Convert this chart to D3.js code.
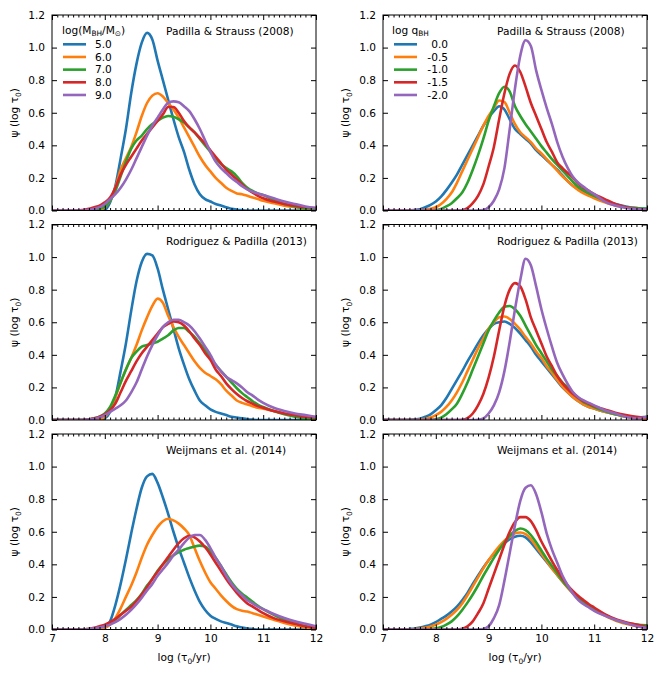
<!DOCTYPE html>
<html><head><meta charset="utf-8">
<script src="https://cdn.jsdelivr.net/npm/d3@7"></script>
<style>body{margin:0;background:#fff} text{font-family:"DejaVu Sans",sans-serif;fill:#000}</style>
</head><body><svg id="c" width="664" height="675"></svg>
<script>
// ---------- data ----------
const xGrid = [7.0,7.1,7.2,7.3,7.4,7.5,7.6,7.7,7.8,7.9, 8.0,8.1,8.2,8.3,8.4,8.5,8.6,8.7,8.8,8.9,
  9.0,9.1,9.2,9.3,9.4,9.5,9.6,9.7,9.8,9.9, 10.0,10.1,10.2,10.3,10.4,10.5,10.6,10.7,10.8,10.9,
  11.0,11.2,11.4,11.6,11.8,12.0];
const xMajorTicks = [7,8,9,10,11,12];
const yMajorTicks = [0.0,0.2,0.4,0.6,0.8,1.0,1.2];
const massLabels = ["5.0","6.0","7.0","8.0","9.0"];
const qLabels = ["0.0","-0.5","-1.0","-1.5","-2.0"];
const seriesColors = ["#1f77b4","#ff7f0e","#2ca02c","#d62728","#9467bd"];
const sourceTitles = ["Padilla & Strauss (2008)","Rodriguez & Padilla (2013)","Weijmans et al. (2014)"];

// Padilla & Strauss (2008), varying black-hole mass
const ps08M50 = [0,0,0,0,0,0,0,0,0,0, 0.005,0.05,0.15,0.32,0.50,0.72,0.90,1.03,1.09,1.05, 0.92,0.80,0.68,0.56,0.45,0.36,0.25,0.16,0.10,0.07, 0.055,0.04,0.03,0.02,0.01,0.005,0.002,0,0,0, 0,0,0,0,0,0];
const ps08M60 = [0,0,0,0,0,0,0,0,0,0.005, 0.02,0.06,0.14,0.25,0.32,0.39,0.48,0.58,0.66,0.705, 0.72,0.70,0.66,0.62,0.57,0.51,0.45,0.39,0.33,0.28, 0.24,0.20,0.17,0.14,0.12,0.105,0.10,0.09,0.08,0.07, 0.06,0.045,0.03,0.02,0.01,0.005];
const ps08M70 = [0,0,0,0,0,0,0,0,0.005,0.01, 0.025,0.06,0.12,0.21,0.30,0.38,0.43,0.46,0.50,0.53, 0.55,0.57,0.58,0.575,0.56,0.54,0.51,0.48,0.44,0.40, 0.36,0.32,0.285,0.26,0.24,0.21,0.17,0.14,0.12,0.105, 0.095,0.065,0.04,0.025,0.01,0.005];
const ps08M80 = [0,0,0,0,0,0,0.005,0.01,0.02,0.03, 0.05,0.08,0.14,0.22,0.28,0.33,0.38,0.43,0.47,0.51, 0.55,0.59,0.635,0.635,0.60,0.55,0.51,0.48,0.445,0.41, 0.37,0.33,0.29,0.25,0.22,0.19,0.16,0.13,0.11,0.09, 0.075,0.055,0.04,0.03,0.02,0.015];
const ps08M90 = [0,0,0,0,0,0,0,0.005,0.01,0.02, 0.04,0.07,0.10,0.14,0.19,0.25,0.32,0.39,0.46,0.52, 0.57,0.62,0.66,0.67,0.665,0.64,0.61,0.56,0.50,0.43, 0.36,0.30,0.26,0.23,0.20,0.175,0.15,0.13,0.115,0.105, 0.095,0.075,0.055,0.04,0.025,0.015];

// Padilla & Strauss (2008), varying mass ratio
const ps08Q00 = [0,0,0,0,0,0,0.003,0.008,0.02,0.035, 0.055,0.085,0.125,0.17,0.22,0.28,0.34,0.40,0.46,0.52, 0.57,0.61,0.64,0.62,0.56,0.50,0.47,0.44,0.41,0.37, 0.34,0.31,0.28,0.25,0.215,0.18,0.15,0.13,0.115,0.10, 0.085,0.06,0.04,0.025,0.015,0.01];
const ps08Q05 = [0,0,0,0,0,0,0,0.002,0.005,0.01, 0.02,0.04,0.07,0.11,0.17,0.24,0.31,0.38,0.45,0.52, 0.58,0.63,0.675,0.665,0.60,0.53,0.48,0.45,0.42,0.38, 0.35,0.315,0.28,0.245,0.21,0.18,0.15,0.125,0.105,0.09, 0.075,0.05,0.03,0.02,0.01,0.005];
const ps08Q10 = [0,0,0,0,0,0,0,0,0,0, 0.003,0.01,0.025,0.045,0.075,0.11,0.17,0.25,0.34,0.44, 0.55,0.64,0.72,0.76,0.73,0.64,0.58,0.53,0.485,0.44, 0.395,0.355,0.315,0.28,0.245,0.21,0.175,0.145,0.125,0.105, 0.09,0.06,0.035,0.02,0.015,0.01];
const ps08Q15 = [0,0,0,0,0,0,0,0,0,0, 0,0,0,0,0,0.002,0.015,0.045,0.09,0.16, 0.27,0.39,0.56,0.72,0.84,0.89,0.85,0.76,0.66,0.58, 0.50,0.42,0.36,0.295,0.26,0.23,0.20,0.165,0.14,0.12, 0.10,0.07,0.04,0.02,0.01,0.005];
const ps08Q20 = [0,0,0,0,0,0,0,0,0,0, 0,0,0,0,0,0,0,0,0,0.003, 0.02,0.06,0.13,0.26,0.50,0.75,0.95,1.045,1.01,0.86, 0.74,0.63,0.53,0.42,0.33,0.26,0.205,0.17,0.145,0.12, 0.10,0.055,0.03,0.015,0.008,0.004];

// Rodriguez & Padilla (2013), varying mass
const rp13M50 = [0,0,0,0,0,0,0,0,0,0, 0.01,0.05,0.14,0.30,0.47,0.67,0.85,0.97,1.02,1.01, 0.93,0.80,0.68,0.56,0.44,0.34,0.25,0.18,0.12,0.09, 0.065,0.05,0.04,0.03,0.02,0.015,0.01,0.005,0.002,0, 0,0,0,0,0,0];
const rp13M60 = [0,0,0,0,0,0,0,0,0,0.005, 0.02,0.06,0.14,0.23,0.31,0.38,0.46,0.55,0.63,0.70, 0.745,0.72,0.64,0.57,0.51,0.46,0.41,0.36,0.32,0.29, 0.27,0.25,0.22,0.18,0.15,0.12,0.105,0.095,0.085,0.075, 0.07,0.055,0.04,0.025,0.015,0.01];
const rp13M70 = [0,0,0,0,0,0,0,0.005,0.01,0.02, 0.04,0.08,0.15,0.23,0.31,0.38,0.42,0.45,0.46,0.47, 0.48,0.50,0.52,0.55,0.565,0.565,0.54,0.51,0.47,0.43, 0.38,0.34,0.30,0.265,0.23,0.195,0.165,0.14,0.115,0.095, 0.08,0.055,0.035,0.02,0.01,0.005];
const rp13M80 = [0,0,0,0,0,0,0,0.005,0.01,0.02, 0.035,0.06,0.10,0.17,0.24,0.30,0.36,0.41,0.45,0.49, 0.53,0.57,0.59,0.605,0.60,0.58,0.545,0.50,0.46,0.41, 0.37,0.31,0.27,0.225,0.19,0.16,0.135,0.115,0.10,0.085, 0.075,0.055,0.04,0.03,0.02,0.015];
const rp13M90 = [0,0,0,0,0,0,0,0.003,0.008,0.015, 0.03,0.05,0.07,0.09,0.12,0.17,0.23,0.31,0.39,0.46, 0.52,0.57,0.60,0.615,0.615,0.60,0.58,0.545,0.50,0.45, 0.40,0.34,0.30,0.265,0.245,0.225,0.20,0.17,0.15,0.125, 0.105,0.075,0.055,0.04,0.03,0.02];

// Rodriguez & Padilla (2013), varying mass ratio
const rp13Q00 = [0,0,0,0,0,0,0.003,0.008,0.02,0.035, 0.06,0.09,0.135,0.19,0.245,0.30,0.36,0.415,0.47,0.52, 0.56,0.59,0.60,0.605,0.59,0.565,0.53,0.49,0.45,0.40, 0.36,0.32,0.28,0.24,0.20,0.17,0.14,0.115,0.095,0.08, 0.07,0.05,0.035,0.025,0.015,0.015];
const rp13Q05 = [0,0,0,0,0,0,0,0.003,0.007,0.015, 0.03,0.05,0.08,0.12,0.17,0.23,0.30,0.37,0.44,0.50, 0.56,0.60,0.63,0.635,0.62,0.59,0.555,0.51,0.47,0.42, 0.38,0.33,0.29,0.245,0.205,0.17,0.14,0.115,0.095,0.08, 0.07,0.05,0.035,0.02,0.01,0.01];
const rp13Q10 = [0,0,0,0,0,0,0,0,0,0, 0.005,0.015,0.035,0.065,0.10,0.16,0.23,0.31,0.39,0.47, 0.55,0.61,0.66,0.695,0.70,0.68,0.64,0.58,0.52,0.46, 0.41,0.36,0.31,0.27,0.23,0.20,0.165,0.135,0.11,0.095, 0.08,0.055,0.035,0.02,0.015,0.02];
const rp13Q15 = [0,0,0,0,0,0,0,0,0,0, 0,0,0,0,0,0.002,0.012,0.04,0.09,0.16, 0.26,0.39,0.55,0.70,0.80,0.84,0.82,0.74,0.63,0.55, 0.47,0.39,0.33,0.27,0.225,0.19,0.16,0.135,0.115,0.10, 0.085,0.065,0.045,0.03,0.02,0.015];
const rp13Q20 = [0,0,0,0,0,0,0,0,0,0, 0,0,0,0,0,0,0,0,0.002,0.01, 0.04,0.09,0.17,0.30,0.48,0.68,0.86,0.99,0.95,0.82, 0.68,0.56,0.45,0.35,0.28,0.22,0.17,0.14,0.12,0.105, 0.09,0.06,0.04,0.02,0.01,0.02];

// Weijmans et al. (2014), varying mass
const w14M50 = [0,0,0,0,0,0,0,0,0,0.002, 0.01,0.05,0.15,0.28,0.43,0.59,0.74,0.87,0.94,0.955, 0.90,0.81,0.71,0.60,0.50,0.41,0.32,0.24,0.17,0.12, 0.085,0.065,0.05,0.04,0.03,0.02,0.012,0.006,0.003,0, 0,0,0,0,0,0];
const w14M60 = [0,0,0,0,0,0,0,0,0,0.003, 0.01,0.03,0.07,0.13,0.20,0.27,0.35,0.44,0.52,0.58, 0.63,0.665,0.68,0.67,0.65,0.62,0.58,0.50,0.42,0.35, 0.29,0.25,0.21,0.175,0.145,0.125,0.115,0.11,0.10,0.09, 0.08,0.06,0.04,0.025,0.012,0.005];
const w14M70 = [0,0,0,0,0,0,0,0.003,0.008,0.015, 0.025,0.04,0.06,0.09,0.12,0.15,0.18,0.22,0.27,0.31, 0.36,0.40,0.43,0.455,0.475,0.49,0.50,0.51,0.515,0.51, 0.48,0.44,0.39,0.34,0.29,0.25,0.22,0.195,0.17,0.145, 0.125,0.09,0.06,0.04,0.02,0.01];
const w14M80 = [0,0,0,0,0,0,0,0.005,0.01,0.02, 0.03,0.045,0.065,0.09,0.115,0.14,0.175,0.215,0.26,0.31, 0.355,0.40,0.445,0.49,0.53,0.56,0.575,0.565,0.54,0.505, 0.46,0.41,0.36,0.31,0.265,0.225,0.19,0.16,0.14,0.12, 0.10,0.07,0.05,0.035,0.02,0.01];
const w14M90 = [0,0,0,0,0,0,0,0.003,0.007,0.012, 0.02,0.03,0.045,0.065,0.09,0.12,0.155,0.195,0.24,0.28, 0.33,0.37,0.41,0.455,0.49,0.53,0.565,0.58,0.58,0.55, 0.50,0.44,0.39,0.33,0.28,0.24,0.21,0.18,0.16,0.14, 0.125,0.095,0.07,0.05,0.035,0.02];

// Weijmans et al. (2014), varying mass ratio
const w14Q00 = [0,0,0,0,0,0.003,0.006,0.012,0.02,0.03, 0.045,0.065,0.085,0.11,0.14,0.18,0.225,0.28,0.33,0.38, 0.425,0.465,0.50,0.53,0.555,0.57,0.575,0.565,0.535,0.495, 0.455,0.415,0.375,0.335,0.295,0.26,0.225,0.195,0.17,0.145, 0.125,0.09,0.06,0.04,0.025,0.015];
const w14Q05 = [0,0,0,0,0,0,0.003,0.006,0.01,0.018, 0.03,0.045,0.065,0.09,0.12,0.16,0.21,0.265,0.32,0.375, 0.425,0.47,0.51,0.545,0.57,0.59,0.595,0.585,0.555,0.51, 0.465,0.42,0.375,0.335,0.295,0.255,0.22,0.19,0.165,0.14, 0.12,0.085,0.055,0.035,0.02,0.01];
const w14Q10 = [0,0,0,0,0,0,0,0,0,0.003, 0.007,0.015,0.03,0.05,0.08,0.12,0.165,0.215,0.27,0.33, 0.385,0.44,0.49,0.535,0.575,0.605,0.62,0.61,0.58,0.535, 0.485,0.435,0.39,0.345,0.30,0.26,0.225,0.195,0.17,0.145, 0.125,0.09,0.06,0.04,0.03,0.025];
const w14Q15 = [0,0,0,0,0,0,0,0,0,0, 0,0,0,0,0,0.005,0.02,0.05,0.10,0.16, 0.25,0.34,0.43,0.52,0.60,0.66,0.69,0.69,0.665,0.61, 0.54,0.48,0.42,0.365,0.315,0.27,0.235,0.205,0.18,0.155, 0.135,0.095,0.065,0.045,0.03,0.015];
const w14Q20 = [0,0,0,0,0,0,0,0,0,0, 0,0,0,0,0,0,0,0,0,0.003, 0.02,0.07,0.15,0.30,0.47,0.64,0.79,0.87,0.885,0.83, 0.72,0.59,0.49,0.41,0.33,0.27,0.22,0.18,0.155,0.135, 0.115,0.085,0.06,0.04,0.02,0.01];

// ---------- layout ----------
const FS = 10.6;
const cols = [{x0:52, x1:316}, {x0:383, x1:647}];
const rows = [{top:15, bottom:210.5}, {top:224.5, bottom:420}, {top:434, bottom:629.5}];
const panels = [
  {row:0, col:0, title:sourceTitles[0], series:[ps08M50,ps08M60,ps08M70,ps08M80,ps08M90], legend:"mass"},
  {row:0, col:1, title:sourceTitles[0], series:[ps08Q00,ps08Q05,ps08Q10,ps08Q15,ps08Q20], legend:"q"},
  {row:1, col:0, title:sourceTitles[1], series:[rp13M50,rp13M60,rp13M70,rp13M80,rp13M90]},
  {row:1, col:1, title:sourceTitles[1], series:[rp13Q00,rp13Q05,rp13Q10,rp13Q15,rp13Q20]},
  {row:2, col:0, title:sourceTitles[2], series:[w14M50,w14M60,w14M70,w14M80,w14M90]},
  {row:2, col:1, title:sourceTitles[2], series:[w14Q00,w14Q05,w14Q10,w14Q15,w14Q20]}
];

const svg = d3.select("#c");
svg.append("rect").attr("width",664).attr("height",675).attr("fill","#fff");

const xMinorTicks = d3.range(70, 121).filter(v => v % 10 !== 0).map(v => v/10);

function styleAxis(g){
  g.select(".domain").remove();
  g.selectAll(".tick line").attr("stroke","#000").attr("stroke-width",1);
  g.selectAll("text").attr("font-family","DejaVu Sans, sans-serif").attr("font-size",FS).attr("fill","#000");
}

function addSub(textSel, parts, shift){
  const d = shift || 3;
  parts.forEach(([s, sub], i) => {
    const t = textSel.append("tspan").text(s);
    if (sub) t.attr("font-size", FS*0.7).attr("dy", d);
    else if (i > 0 && parts[i-1][1]) t.attr("dy", -d);
  });
}

panels.forEach(p => {
  const c = cols[p.col], r = rows[p.row];
  const x = d3.scaleLinear().domain([7,12]).range([c.x0, c.x1]);
  const y = d3.scaleLinear().domain([0,1.2]).range([r.bottom, r.top]);
  const g = svg.append("g");

  const clipId = "clip" + p.row + p.col;
  g.append("clipPath").attr("id", clipId).append("rect")
    .attr("x", c.x0).attr("y", r.top).attr("width", c.x1 - c.x0).attr("height", r.bottom - r.top);

  const line = d3.line().x((d,i) => x(xGrid[i])).y(d => y(d)).curve(d3.curveMonotoneX);
  const lg = g.append("g").attr("clip-path", `url(#${clipId})`);
  p.series.forEach((s, i) => {
    lg.append("path").attr("d", line(s)).attr("fill","none")
      .attr("stroke", seriesColors[i]).attr("stroke-width", 2.6)
      .attr("stroke-linejoin","round").attr("stroke-linecap","round");
  });

  // axes
  const isBottom = p.row === 2;
  g.append("g").attr("transform",`translate(0,${r.bottom})`)
    .call(d3.axisBottom(x).tickValues(xMajorTicks).tickSize(-5).tickPadding(5)
      .tickFormat(isBottom ? d3.format("d") : () => "")).call(styleAxis);
  g.append("g").attr("transform",`translate(0,${r.bottom})`)
    .call(d3.axisBottom(x).tickValues(xMinorTicks).tickSize(-2.5).tickFormat(() => "")).call(styleAxis);
  g.append("g").attr("transform",`translate(0,${r.top})`)
    .call(d3.axisTop(x).tickValues(xMajorTicks).tickSize(-5).tickFormat(() => "")).call(styleAxis);
  g.append("g").attr("transform",`translate(0,${r.top})`)
    .call(d3.axisTop(x).tickValues(xMinorTicks).tickSize(-2.5).tickFormat(() => "")).call(styleAxis);
  g.append("g").attr("transform",`translate(${c.x0},0)`)
    .call(d3.axisLeft(y).tickValues(yMajorTicks).tickSize(-5).tickPadding(7).tickFormat(d3.format(".1f"))).call(styleAxis);
  g.append("g").attr("transform",`translate(${c.x1},0)`)
    .call(d3.axisRight(y).tickValues(yMajorTicks).tickSize(-5).tickFormat(() => "")).call(styleAxis);

  g.append("rect").attr("x", c.x0).attr("y", r.top).attr("width", c.x1 - c.x0).attr("height", r.bottom - r.top)
    .attr("fill","none").attr("stroke","#000").attr("stroke-width",1);

  // source annotation
  g.append("text").attr("x", c.x0 + 114).attr("y", r.top + 20).attr("font-size", FS).text(p.title);

  // y label
  const yl = g.append("text")
    .attr("transform", `translate(${c.x0 - 34},${(r.top + r.bottom)/2}) rotate(-90)`)
    .attr("text-anchor","middle").attr("font-size", FS);
  addSub(yl, [["ψ (log τ", false], ["0", true], [")", false]]);

  if (isBottom) {
    const xl = g.append("text").attr("x", (c.x0 + c.x1)/2).attr("y", 661)
      .attr("text-anchor","middle").attr("font-size", FS);
    addSub(xl, [["log (τ", false], ["0", true], ["/yr)", false]]);
  }

  // legends
  if (p.legend) {
    const labels = p.legend === "mass" ? massLabels : qLabels;
    const lx = c.x0 + 11;
    const tt = g.append("text").attr("x", c.x0 + (p.legend === "mass" ? 10 : 9)).attr("y", r.top + 19).attr("font-size", FS);
    if (p.legend === "mass") addSub(tt, [["log(M", false], ["BH", true], ["/M", false], ["⊙", true], [")", false]], 2.4);
    else addSub(tt, [["log q", false], ["BH", true]], 2.4);
    labels.forEach((lab, i) => {
      const yy = r.top + 29.3 + i * 12.67;
      g.append("line").attr("x1", lx).attr("x2", lx + 23).attr("y1", yy).attr("y2", yy)
        .attr("stroke", seriesColors[i]).attr("stroke-width", 2.6);
      const t = g.append("text").attr("y", yy + 3.8).attr("font-size", FS).text(lab);
      if (p.legend === "mass") t.attr("x", c.x0 + 43);
      else t.attr("x", c.x0 + 65).attr("text-anchor","end");
    });
  }
});
</script>
</body></html>
